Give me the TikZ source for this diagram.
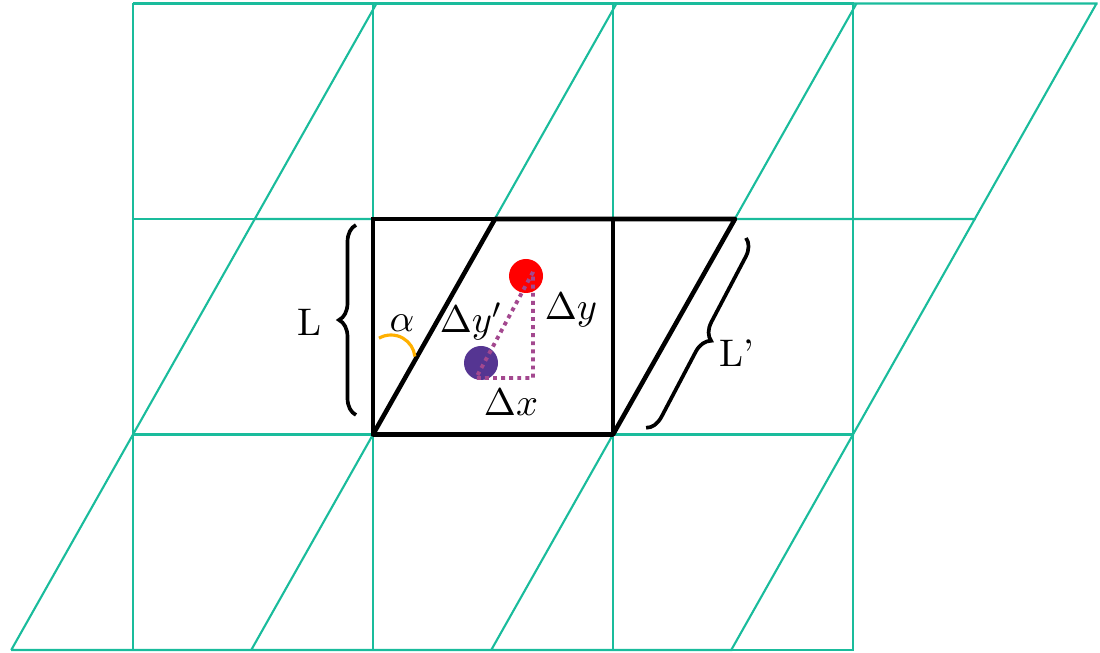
\documentclass[tikz,border=0pt]{standalone}
\usetikzlibrary{decorations.pathreplacing}
\definecolor{latticegreen}{HTML}{1ABC9C}
\definecolor{dotred}{HTML}{FF0000}
\definecolor{dotpurple}{HTML}{553592}
\definecolor{distmagenta}{HTML}{A3488F}
\definecolor{anglegold}{HTML}{FFB000}
\begin{document}
\begin{tikzpicture}[
    font=\fontsize{10.95}{13}\selectfont,
    lattice/.style={draw=latticegreen, line width=0.6pt},
    cellbox/.style={draw=black, line width=0.9pt},
    cellslant/.style={draw=black, line width=1.3pt, line join=round},
    particle/.style={circle, inner sep=0pt, minimum size=0.34cm},
    dist/.style={draw=distmagenta, line width=1.1pt, dash pattern=on 1.1pt off 1.2pt},
    bracket/.style={draw=black, line width=1.05pt, decorate, decoration={brace, amplitude=0.17cm}},
    lbl/.style={inner sep=1pt}
]
\useasboundingbox (0,0) rectangle (11,6.53);

% Lattices
\draw[lattice, shift={(1.33,0.03)}] (0,0) grid[xstep=2.4, ystep=2.155] (7.21,6.47);
\draw[lattice, shift={(0.1124,0.03)}, xslant=0.565] (0,0) grid[xstep=2.4, ystep=2.155] (7.21,6.47);

% Central cell
\coordinate (sw) at (3.73,2.185);
\coordinate (se) at (6.13,2.185);
\coordinate (nw) at (3.73,4.34);
\coordinate (ne) at (6.13,4.34);
\coordinate (nwslant) at (4.95,4.34);
\coordinate (neslant) at (7.35,4.34);
\draw[cellbox] (sw) rectangle (ne);
\draw[cellslant] (sw) -- (se) -- (neslant) -- (nwslant) -- cycle;

% Angle
\draw[anglegold, line width=0.9pt] (3.91,2.94) ++(120:0.24) arc[start angle=120, end angle=6, radius=0.24];

% Particles
\node[particle, fill=dotred] (pred) at (5.26,3.77) {};
\node[particle, fill=dotpurple] (ppurple) at (4.81,2.90) {};

% Distances
\coordinate (da) at (5.33,3.81);
\coordinate (db) at (4.76,2.75);
\coordinate (dc) at (5.33,2.75);
\draw[dist] (da) -- (db) -- (dc) -- cycle;

% Braces
\draw[bracket] (3.56,2.38) -- (3.56,4.28);
\draw[bracket] (7.46,4.15) -- (6.46,2.25);

% Labels
\node[lbl] (lenL) at (3.10,3.31) {L};
\node[lbl] (alpha) at (4.02,3.30) {$\alpha$};
\node[lbl] (dyprime) at (4.71,3.32) {$\Delta y'$};
\node[lbl] (dy) at (5.71,3.43) {$\Delta y$};
\node[lbl] (dx) at (5.11,2.51) {$\Delta x$};
\node[lbl] (lenLp) at (7.37,3.00) {L'};
\end{tikzpicture}
\end{document}
